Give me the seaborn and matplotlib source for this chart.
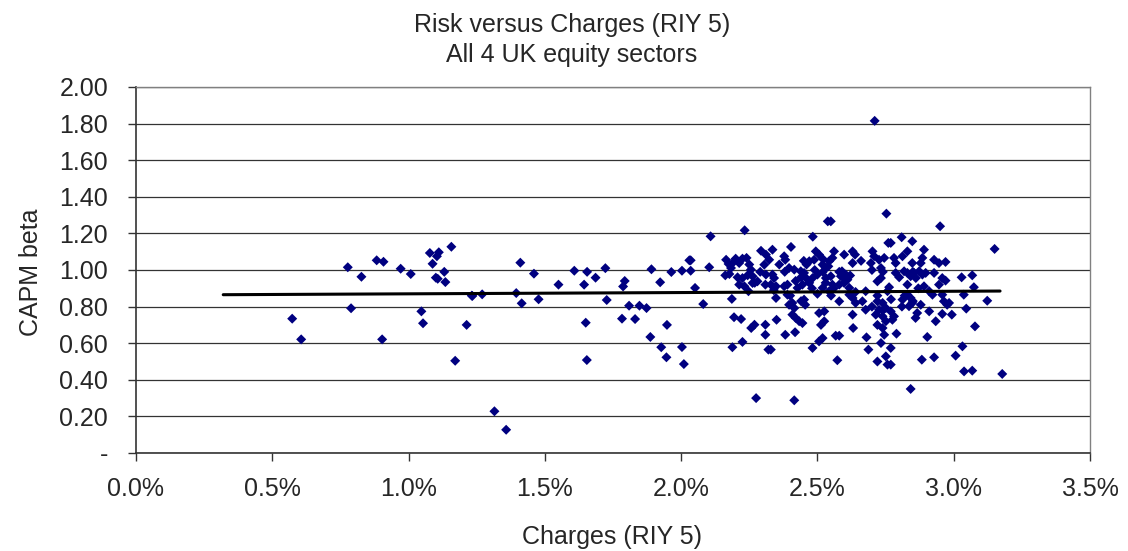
import matplotlib
matplotlib.use("Agg")
import matplotlib.pyplot as plt
import matplotlib.ticker as mticker
import seaborn as sns
import pandas as pd

# charges (RIY 5, in %) and CAPM beta
charges = [
    0.573, 0.606, 0.777, 0.789, 0.827, 0.883, 0.908, 0.903, 0.971, 1.008,
    1.047, 1.053, 1.078, 1.111, 1.104, 1.088, 1.100, 1.107, 1.131, 1.135,
    1.157, 1.171, 1.213, 1.232, 1.234, 1.270, 1.315, 1.358, 1.395, 1.410,
    1.415, 1.460, 1.477, 1.550, 1.608, 1.655, 1.644, 1.686, 1.722, 1.727,
    1.650, 1.654, 1.793, 1.787, 1.809, 1.783, 1.831, 1.847, 1.873, 1.891,
    1.923, 1.964, 2.003, 2.030, 1.948, 1.887, 1.927, 1.946, 2.003, 2.010,
    2.108, 2.233, 2.035, 2.035, 2.103, 2.051, 2.081, 2.186, 2.194, 2.220,
    2.257, 2.269, 2.309, 2.309, 2.225, 2.188, 2.275, 2.320,
    2.165, 2.174, 2.200, 2.225, 2.240, 2.183, 2.213, 2.162, 2.177, 2.207,
    2.225, 2.244, 2.256, 2.262, 2.213, 2.232, 2.247, 2.262, 2.293, 2.311,
    2.305, 2.311, 2.309, 2.280,
    2.538, 2.483, 2.403, 2.335, 2.378, 2.382,
    2.323, 2.335, 2.341, 2.329, 2.396, 2.415, 2.439, 2.451, 2.470, 2.488,
    2.494, 2.506, 2.519, 2.531, 2.500, 2.482, 2.458, 2.531, 2.519, 2.445,
    2.427, 2.390, 2.378, 2.348,
    2.348, 2.390, 2.396, 2.408, 2.415, 2.451, 2.455, 2.408, 2.420, 2.433,
    2.445, 2.350, 2.382, 2.418, 2.329, 2.482, 2.506, 2.519, 2.513, 2.525,
    2.506, 2.525, 2.415,
    2.753, 2.549, 2.561, 2.555, 2.543, 2.598, 2.629, 2.638, 2.629, 2.590,
    2.586, 2.604, 2.610, 2.598, 2.580, 2.617, 2.549, 2.555, 2.543, 2.617,
    2.629, 2.580, 2.640, 2.665, 2.677, 2.677, 2.702, 2.708, 2.726, 2.733,
    2.745, 2.760, 2.696, 2.720, 2.733,
    2.720, 2.739, 2.751, 2.726, 2.714, 2.739, 2.751, 2.720, 2.739, 2.745,
    2.629, 2.631, 2.567, 2.580, 2.680, 2.687, 2.573, 2.720, 2.733, 2.751,
    2.757, 2.757,
    2.950, 2.809, 2.848, 2.769, 2.830, 2.812, 2.781, 2.787, 2.891, 2.885,
    2.879, 2.928, 2.946, 2.970, 2.848,
    2.787, 2.818, 2.830, 2.855, 2.873, 2.885, 2.897, 2.928, 2.861, 2.842,
    2.958, 2.970, 2.830, 2.946, 2.891, 2.763,
    2.830, 2.842, 2.848, 2.836, 2.812, 2.879, 2.910, 2.922, 2.958, 2.964,
    2.976, 2.769, 2.781, 2.775, 2.866, 2.860, 2.910, 2.934, 2.958,
    2.790, 2.903, 2.769, 2.769, 2.883, 2.928, 2.842,
    3.150, 3.029, 3.068, 3.074, 3.037, 3.123, 2.983, 2.993, 3.046, 3.078,
    3.032, 3.007, 3.038, 3.068, 3.178, 2.710,
    2.46, 2.49, 2.52, 2.54, 2.47, 2.53, 2.56, 2.44, 2.50, 2.55,
    2.58, 2.52, 2.45, 2.36, 2.38, 2.42, 2.48, 2.60, 2.66, 2.70,
    2.74, 2.80, 2.85, 2.82, 2.85, 2.87, 2.72, 2.70, 2.74, 2.77,
    2.81, 2.64, 2.62, 2.27, 2.29, 2.19, 2.25, 2.34, 2.40, 2.44,
]
beta = [
    0.734, 0.621, 1.015, 0.791, 0.963, 1.053, 1.045, 0.621, 1.007, 0.978,
    0.774, 0.709, 1.093, 1.097, 1.075, 1.034, 0.958, 0.952, 0.990, 0.934,
    1.127, 0.504, 0.700, 0.860, 0.858, 0.867, 0.228, 0.127, 0.874, 1.040,
    0.818, 0.980, 0.840, 0.920, 0.996, 0.990, 0.920, 0.958, 1.010, 0.836,
    0.712, 0.508, 0.940, 0.910, 0.805, 0.734, 0.732, 0.805, 0.792, 1.004,
    0.933, 0.989, 0.996, 1.053, 0.700, 0.634, 0.578, 0.523, 0.579, 0.486,
    1.184, 1.217, 1.053, 0.996, 1.015, 0.902, 0.814, 0.842, 0.742, 0.732,
    0.683, 0.701, 0.701, 0.646, 0.607, 0.578, 0.300, 0.565,
    1.056, 1.033, 1.062, 1.062, 1.066, 1.011, 1.038, 0.971, 0.978, 0.960,
    0.956, 0.971, 1.002, 0.966, 0.920, 0.911, 0.884, 0.929, 1.105, 1.084,
    1.029, 0.975, 0.920, 0.938,
    1.266, 1.182, 1.126, 1.111, 1.075, 1.056,
    1.056, 0.975, 0.956, 0.920, 1.011, 1.002, 0.993, 0.984, 1.048, 1.056,
    1.102, 1.084, 1.029, 1.011, 0.975, 0.956, 0.956, 0.956, 0.902, 0.920,
    0.902, 0.920, 0.911, 0.911,
    0.847, 0.865, 0.810, 0.820, 0.792, 0.838, 0.810, 0.756, 0.738, 0.720,
    0.710, 0.728, 0.646, 0.660, 0.565, 0.574, 0.610, 0.628, 0.700, 0.720,
    0.765, 0.774, 0.288,
    1.308, 1.266, 1.102, 1.066, 1.048, 1.084, 1.102, 1.084, 1.038, 0.993,
    0.966, 0.975, 0.947, 0.929, 0.920, 0.902, 0.966, 0.920, 0.884, 0.865,
    0.847, 0.829, 0.820, 0.829, 0.884, 0.783, 1.102, 1.075, 1.056, 1.011,
    1.066, 1.148, 1.038, 0.938, 0.956,
    0.829, 0.820, 0.792, 0.783, 0.756, 0.747, 0.720, 0.700, 0.683, 0.646,
    0.756, 0.683, 0.641, 0.641, 0.632, 0.565, 0.507, 0.500, 0.601, 0.528,
    0.483, 0.884,
    1.239, 1.179, 1.157, 1.148, 1.102, 1.075, 1.066, 1.038, 1.111, 1.066,
    1.038, 1.056, 1.038, 1.044, 1.038,
    0.984, 0.993, 0.984, 0.984, 0.993, 0.975, 0.984, 0.984, 0.956, 0.966,
    0.956, 0.942, 0.920, 0.920, 0.911, 0.906,
    0.865, 0.847, 0.820, 0.802, 0.838, 0.810, 0.884, 0.865, 0.865, 0.829,
    0.810, 0.774, 0.747, 0.728, 0.765, 0.738, 0.774, 0.720, 0.760,
    0.652, 0.634, 0.574, 0.483, 0.510, 0.523, 0.350,
    1.115, 0.960, 0.971, 0.906, 0.865, 0.832, 0.820, 0.756, 0.789, 0.692,
    0.583, 0.532, 0.446, 0.450, 0.432, 1.815,
    1.03, 1.00, 0.99, 1.02, 0.93, 0.93, 0.90, 0.96, 0.87, 0.86,
    0.99, 1.06, 1.05, 1.03, 0.99, 0.94, 0.90, 0.95, 1.05, 1.00,
    0.99, 0.96, 0.99, 0.86, 0.83, 0.90, 0.86, 0.80, 0.78, 0.84,
    0.80, 0.88, 0.97, 0.93, 0.99, 1.04, 1.03, 0.89, 0.86, 0.83,
]

# linear trend line end points as drawn on the chart
trend_x = [0.32, 3.17]
trend_y = [0.865, 0.885]

df = pd.DataFrame({"charges": charges, "beta": beta})
trend = pd.DataFrame({"charges": trend_x, "beta": trend_y})

sns.set_style("white")
plt.rcParams["font.family"] = ["Liberation Sans", "DejaVu Sans"]

fig = plt.figure(figsize=(11.28, 5.51), dpi=100)
ax = fig.add_axes([136 / 1128, 1 - 453 / 551, 954 / 1128, 366 / 551])

ax.yaxis.grid(True, color="#333333", linewidth=0.9)
ax.set_axisbelow(True)

sns.scatterplot(data=df, x="charges", y="beta", marker="D", s=26,
                color="#000080", edgecolor="none", ax=ax, zorder=3)
sns.lineplot(data=trend, x="charges", y="beta", color="black",
             linewidth=2.2, ax=ax, zorder=4)

ax.set_xlim(0, 3.5)
ax.set_ylim(0, 2.0)
ax.xaxis.set_major_locator(mticker.MultipleLocator(0.5))
ax.yaxis.set_major_locator(mticker.MultipleLocator(0.2))
ax.xaxis.set_major_formatter(mticker.FuncFormatter(lambda v, p: f"{v:.1f}%"))
ax.yaxis.set_major_formatter(
    mticker.FuncFormatter(lambda v, p: "-" if abs(v) < 1e-9 else f"{v:.2f}"))
ax.tick_params(axis="both", labelsize=18, direction="out", length=6,
               width=1, color="#333333", left=True, bottom=True)
ax.tick_params(axis="y", pad=14)
ax.tick_params(axis="x", pad=11)

for side in ["top", "right"]:
    ax.spines[side].set_color("#808080")
    ax.spines[side].set_linewidth(1)
for side in ["left", "bottom"]:
    ax.spines[side].set_color("#333333")
    ax.spines[side].set_linewidth(1.2)

ax.set_xlabel("")
ax.set_ylabel("")
fig.text(612 / 1128, 1 - 537 / 551, "Charges (RIY 5)",
         ha="center", va="center", fontsize=18)
fig.text(31 / 1128, 1 - 272 / 551, "CAPM beta", rotation=90,
         ha="center", va="center", fontsize=18)

fig.text(572 / 1128, 1 - 32 / 551, "Risk versus Charges (RIY 5)",
         ha="center", va="baseline", fontsize=18)
fig.text(572 / 1128, 1 - 62 / 551, "All 4 UK equity sectors",
         ha="center", va="baseline", fontsize=18)

fig.savefig("out.png", dpi=100)
